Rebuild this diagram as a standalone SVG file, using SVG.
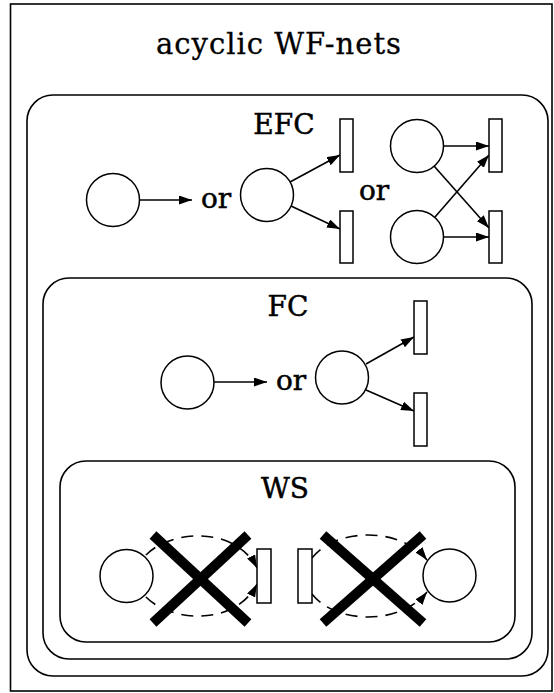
<svg xmlns="http://www.w3.org/2000/svg" width="554" height="693" viewBox="0 0 554 693">
  <style>
    .frame { fill: none; stroke: #000; stroke-width: 1.6; }
    .place { fill: #fff; stroke: #000; stroke-width: 1.5; }
    .trans { fill: #fff; stroke: #000; stroke-width: 1.5; }
    .arc { fill: none; stroke: #000; stroke-width: 1.6; marker-end: url(#head); }
    .dashed { stroke-dasharray: 12 8; }
    .cross { stroke: #000; stroke-width: 10; stroke-linecap: butt; }
    .label { font-family: "DejaVu Serif", "Liberation Serif", serif; font-size: 28px; fill: #000; stroke: #000; stroke-width: 0.5; text-anchor: middle; }
    .title { font-size: 29px; letter-spacing: 1px; stroke-width: 0.3; }
  </style>
  <defs>
    <marker id="head" markerUnits="userSpaceOnUse" markerWidth="15" markerHeight="10" refX="13" refY="4.5" orient="auto">
      <path d="M0,0 L13,4.5 L0,9 z" fill="#000"/>
    </marker>
  </defs>
  <rect width="554" height="693" fill="#fff"/>

  <!-- nested class boundaries -->
  <g id="acyclic-wf-nets">
    <rect class="frame" x="10.5" y="4" width="541.5" height="687"/>
    <text class="label title" x="279" y="54">acyclic WF-nets</text>
  </g>
  <g id="efc">
    <rect class="frame" x="27" y="95" width="521" height="581" rx="26"/>
    <text class="label" x="284" y="134">EFC</text>
    <text class="label" x="216" y="208">or</text>
    <text class="label" x="374" y="200">or</text>
  </g>
  <g id="fc">
    <rect class="frame" x="43" y="278" width="489" height="381" rx="26"/>
    <text class="label" x="288" y="316">FC</text>
    <text class="label" x="291" y="390">or</text>
  </g>
  <g id="ws">
    <rect class="frame" x="60" y="461" width="455" height="181" rx="26"/>
    <text class="label" x="285" y="498">WS</text>
  </g>

  <!-- arcs -->
  <g id="connectors">
    <!-- EFC -->
    <line class="arc" x1="140" y1="200" x2="192" y2="200"/>
    <line class="arc" x1="290" y1="182" x2="340" y2="155"/>
    <line class="arc" x1="291" y1="206" x2="340" y2="229"/>
    <line class="arc" x1="444" y1="146" x2="489" y2="146"/>
    <line class="arc" x1="444" y1="237" x2="489" y2="237"/>
    <line class="arc" x1="434" y1="166" x2="489" y2="228"/>
    <line class="arc" x1="435" y1="217" x2="489" y2="155"/>
    <!-- FC -->
    <line class="arc" x1="214" y1="382" x2="267" y2="382"/>
    <line class="arc" x1="366" y1="364" x2="414" y2="337"/>
    <line class="arc" x1="366" y1="390" x2="414" y2="411"/>
    <!-- WS -->
    <path class="arc dashed" d="M146,555 C170,530 235,525 257,568"/>
    <path class="arc dashed" d="M146,597 C170,622 235,627 257,584"/>
    <path class="arc dashed" d="M312,558 C335,528 400,526 427,560"/>
    <path class="arc dashed" d="M312,594 C335,624 400,626 427,592"/>
  </g>

  <!-- places and transitions -->
  <g id="efc-nets">
    <circle class="place" cx="113" cy="200" r="26.5"/>
    <circle class="place" cx="267" cy="195" r="26.5"/>
    <rect class="trans" x="340" y="119" width="13" height="53"/>
    <rect class="trans" x="340" y="211" width="13" height="52"/>
    <circle class="place" cx="417" cy="146" r="26.5"/>
    <circle class="place" cx="417" cy="237" r="26.5"/>
    <rect class="trans" x="489" y="119" width="13" height="53"/>
    <rect class="trans" x="489" y="211" width="13" height="52"/>
  </g>
  <g id="fc-nets">
    <circle class="place" cx="187.5" cy="382.5" r="26.5"/>
    <circle class="place" cx="342" cy="377.5" r="26.5"/>
    <rect class="trans" x="414" y="301" width="13" height="53"/>
    <rect class="trans" x="414" y="393" width="13" height="53"/>
  </g>
  <g id="ws-nets">
    <circle class="place" cx="126.5" cy="576" r="26.5"/>
    <rect class="trans" x="257" y="549" width="14" height="54"/>
    <rect class="trans" x="298" y="549" width="14" height="54"/>
    <circle class="place" cx="449.5" cy="575.5" r="26.5"/>
  </g>

  <!-- forbidden patterns struck out -->
  <g id="strike-left">
    <line class="cross" x1="153" y1="535" x2="248" y2="623"/>
    <line class="cross" x1="248" y1="535" x2="153" y2="623"/>
  </g>
  <g id="strike-right">
    <line class="cross" x1="323" y1="535" x2="423" y2="623"/>
    <line class="cross" x1="423" y1="535" x2="323" y2="623"/>
  </g>
</svg>
